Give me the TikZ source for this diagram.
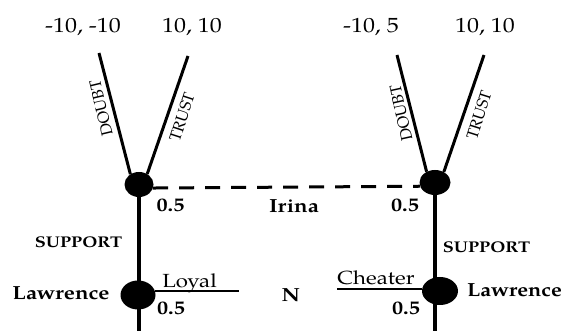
\documentclass[tikz,border=0pt]{standalone}
\usepackage{fontspec}
\setmainfont{texgyrepagella}[Extension=.otf, UprightFont=*-regular, BoldFont=*-bold, ItalicFont=*-italic, BoldItalicFont=*-bolditalic]
\usetikzlibrary{shapes.geometric}
\begin{document}
\begin{tikzpicture}[x=1pt,y=-1pt,
  dot/.style={ellipse, fill=black, inner sep=0pt},
  updot/.style={dot, minimum width=29pt, minimum height=25pt},
  lowdot/.style={dot, minimum width=35pt, minimum height=29pt},
  txt/.style={inner sep=0pt, xscale=1.17, font=\fontsize{19}{22}\selectfont},
  btxt/.style={txt, font=\fontsize{19}{22}\selectfont\bfseries},
  pay/.style={inner sep=0pt, anchor=base, xscale=1.17, font=\fontsize{20.5}{24}\selectfont},
  act/.style={inner sep=0pt, font=\fontsize{16}{19}\selectfont},
  sup/.style={inner sep=0pt, anchor=base, xscale=1.17, font=\fontsize{15.5}{18}\selectfont\bfseries},
  branch/.style={line width=3pt},
  stem/.style={line width=4.5pt},
  info/.style={line width=3pt, dash pattern=on 15pt off 11pt},
  chance/.style={line width=2.3pt}
]
\useasboundingbox (0,0) rectangle (563,331);

% end points
\coordinate (ld) at (99,53);
\coordinate (lt) at (188,56);
\coordinate (rd) at (397,55);
\coordinate (rt) at (484,55);
\coordinate (lbot) at (139,331);
\coordinate (rbot) at (435,331);
\coordinate (loyalend) at (239,291);
\coordinate (cheatend) at (337,289.5);

% nodes
\node[updot] (lu) at (139,184.5) {};
\node[updot, minimum width=31pt] (ru) at (435,182.5) {};

% lines
\draw[stem] (lu) -- (lbot);
\draw[stem] (ru) -- (rbot);
\draw[branch] (ld) -- (lu.130);
\draw[branch] (lt) -- (lu.52);
\draw[branch] (rd) -- (ru.128);
\draw[branch] (rt) -- (ru.50);
\draw[info] (lu.-14) -- (ru.194);

\node[lowdot] (ll) at (138,295) {};
\node[lowdot, minimum width=36pt, minimum height=28pt] (lr) at (440,291) {};
\draw[chance] (ll.14) -- (ll.14 -| loyalend);
\draw[chance] (lr.173) -- (lr.173 -| cheatend);

% payoffs
\node[pay] (p1) at (83,33) {-10, -10};
\node[pay] (p2) at (192,33) {10, 10};
\node[pay] (p3) at (371,33) {-10, 5};
\node[pay] (p4) at (485,33) {10, 10};

% actions
\node[act, rotate=103.4] (d1) at (101,108) {DOUBT};
\node[act, rotate=71.9] (t1) at (182,117) {TRUST};
\node[act, rotate=102.5] (d2) at (401,113) {DOUBT};
\node[act, rotate=72.4] (t2) at (479,115) {TRUST};

% labels
\node[btxt, anchor=base] (h1) at (170.5,212) {0.5};
\node[btxt, anchor=base] (irina) at (294,212.5) {Irina};
\node[btxt, anchor=base] (h2) at (405,211.5) {0.5};
\node[sup] (s1) at (78.5,248) {SUPPORT};
\node[sup] (s2) at (486.5,252.5) {SUPPORT};
\node[btxt, anchor=base] (law1) at (61,300) {Lawrence};
\node[btxt, anchor=base west, xscale=0.975] (law2) at (467,297) {Lawrence};
\node[txt, anchor=base] (loyal) at (189.5,288) {Loyal};
\node[btxt, anchor=base] (h3) at (171,315) {0.5};
\node[txt, anchor=base] (cheater) at (376,285) {Cheater};
\node[btxt, anchor=base] (h4) at (406,315) {0.5};
\node[btxt, anchor=base] (nat) at (291,302) {N};
\end{tikzpicture}
\end{document}
